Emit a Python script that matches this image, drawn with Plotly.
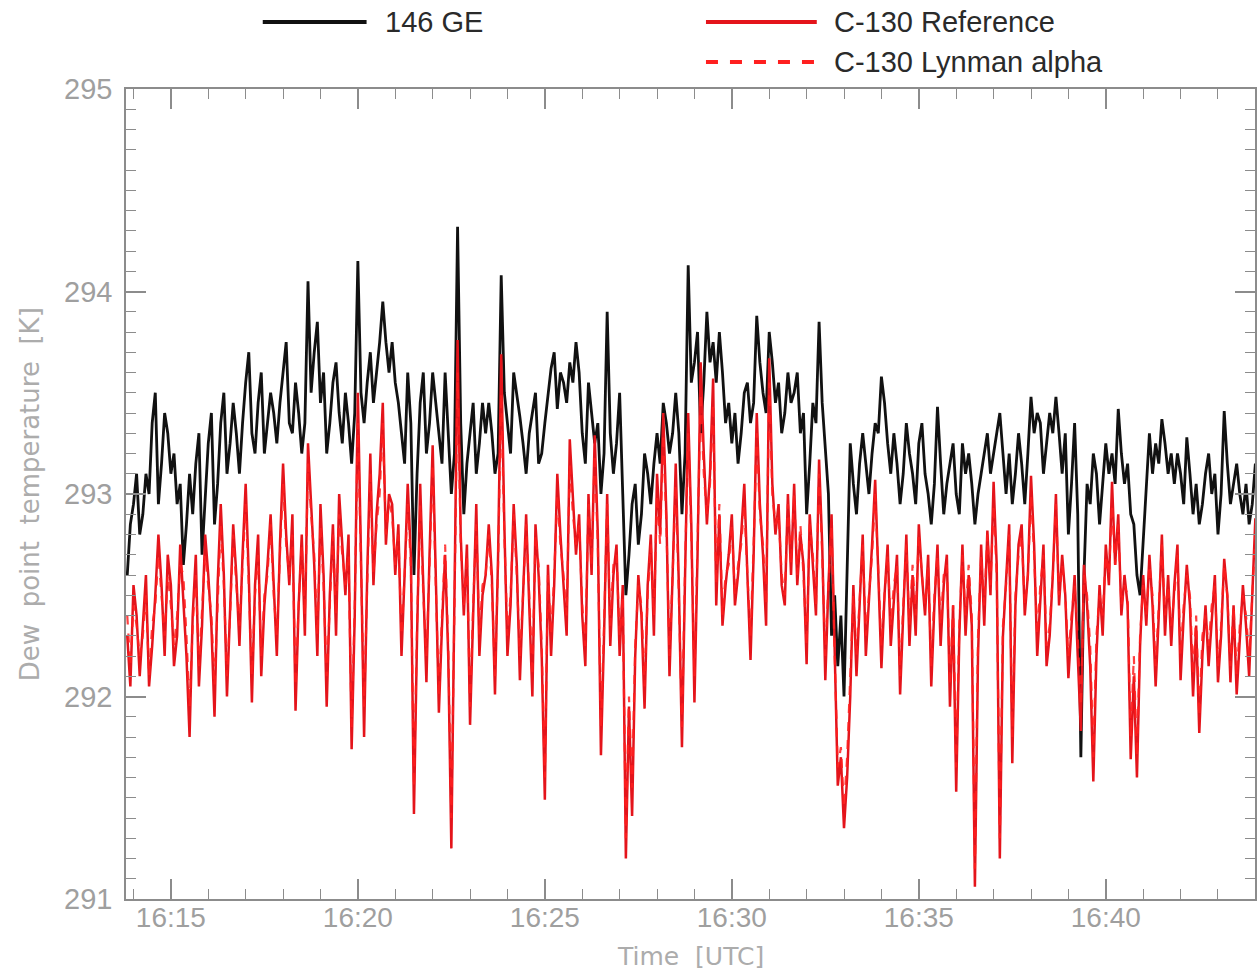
import plotly.graph_objects as go

# Sampling: 5 s steps starting 16:13:50 UTC (time in minutes after 16:00)
start_min = 13 + 50 / 60
step_min = 5 / 60

ge146 = [
    292.6, 292.85, 292.95, 293.1, 292.8, 292.9, 293.1, 293.0, 293.35, 293.5,
    292.95, 293.15, 293.4, 293.3, 293.1, 293.2, 292.95, 293.05, 292.65, 292.85,
    293.1, 292.9, 293.15, 293.3, 292.7, 292.95, 293.25, 293.4, 292.85, 293.05,
    293.35, 293.5, 293.1, 293.25, 293.45, 293.3, 293.1, 293.35, 293.55, 293.7,
    293.3, 293.2, 293.45, 293.6, 293.2, 293.35, 293.5, 293.4, 293.25, 293.45,
    293.6, 293.75, 293.35, 293.3, 293.55, 293.4, 293.2, 293.35, 294.05, 293.5,
    293.7, 293.85, 293.45, 293.6, 293.2, 293.35, 293.55, 293.65, 293.4, 293.25,
    293.5, 293.35, 293.15, 293.4, 294.15, 293.5, 293.35, 293.55, 293.7, 293.45,
    293.6, 293.75, 293.95, 293.75, 293.6, 293.75, 293.55, 293.45, 293.3, 293.15,
    293.6, 293.35, 292.6, 293.1, 293.45, 293.6, 293.2, 293.35, 293.6, 293.45,
    293.3, 293.15, 293.6, 293.3, 293.0, 293.2, 294.32, 293.35, 292.9, 293.15,
    293.3, 293.45, 293.1, 293.25, 293.45, 293.3, 293.45, 293.3, 293.1, 293.2,
    294.08, 293.5, 293.35, 293.2, 293.6, 293.5, 293.38, 293.25, 293.1, 293.3,
    293.4, 293.5, 293.15, 293.2, 293.35, 293.5, 293.62, 293.7, 293.42, 293.6,
    293.55, 293.45, 293.65, 293.55, 293.75, 293.6, 293.3, 293.15, 293.55, 293.4,
    293.25, 293.35, 293.0, 293.2, 293.9, 293.3, 293.1, 293.25, 293.5, 293.0,
    292.5, 292.7, 292.95, 293.05, 292.75, 292.9, 293.2, 293.1, 292.95, 293.15,
    293.3, 293.15, 293.45, 293.35, 293.2, 293.3, 293.5, 293.3, 292.9, 293.2,
    294.13, 293.55, 293.65, 293.8, 293.3, 293.55, 293.9, 293.65, 293.75, 293.55,
    293.8, 293.6, 293.35, 293.45, 293.25, 293.4, 293.15, 293.3, 293.5, 293.55,
    293.35, 293.45, 293.88, 293.65, 293.5, 293.4, 293.8, 293.65, 293.45, 293.55,
    293.3, 293.4, 293.6, 293.45, 293.5, 293.6, 293.3, 293.4, 292.9, 293.15,
    293.45, 293.35, 293.85, 293.45, 293.2, 293.0, 292.3, 292.5, 292.15, 292.4,
    292.0, 292.7, 293.25, 293.05, 292.9, 293.15, 293.3, 293.15, 293.0, 293.2,
    293.35, 293.3, 293.58, 293.45, 293.25, 293.1, 293.3, 293.15, 292.95, 293.1,
    293.35, 293.2, 293.1, 292.95, 293.25, 293.35, 293.1, 293.0, 292.85, 293.05,
    293.43, 293.15, 292.9, 293.05, 293.15, 293.25, 293.0, 292.9, 293.25, 293.1,
    293.2, 293.05, 292.85, 293.0, 293.1, 293.2, 293.3, 293.1, 293.2, 293.3,
    293.4, 293.2, 293.0, 293.2, 292.95, 293.1, 293.3, 293.15, 292.95, 293.2,
    293.48, 293.3, 293.4, 293.35, 293.1, 293.25, 293.4, 293.3, 293.48, 293.3,
    293.1, 293.3, 292.8, 293.05, 293.35, 292.9, 291.7, 292.6, 293.05, 292.95,
    293.2, 293.1, 292.85, 293.05, 293.25, 293.1, 293.2, 293.05, 293.42, 293.2,
    293.05, 293.15, 292.9, 292.85, 292.6, 292.5, 292.75, 293.0, 293.3, 293.1,
    293.25, 293.15, 293.37, 293.25, 293.1, 293.2, 293.05, 293.2, 293.1, 292.95,
    293.28, 293.1, 292.9, 293.05, 292.85, 292.95, 293.1, 293.2, 293.0, 293.1,
    292.8, 293.0, 293.41, 293.15, 292.95, 293.05, 293.15, 293.0, 292.9, 293.05,
    292.85, 292.95, 293.15,
]

c130_reference = [
    292.3, 292.05, 292.55, 292.4, 292.1, 292.35, 292.6, 292.05, 292.25, 292.5,
    292.8, 292.55, 292.2, 292.7, 292.55, 292.15, 292.3, 292.75, 292.5, 292.2,
    291.8, 292.4, 292.7, 292.05, 292.35, 292.8, 292.6, 292.35, 291.9, 292.55,
    292.95, 292.6, 292.0, 292.45, 292.85, 292.6, 292.25, 292.7, 293.05, 292.6,
    291.97, 292.55, 292.8, 292.1, 292.45, 292.65, 292.9, 292.55, 292.2, 292.75,
    293.15, 292.8, 292.55, 292.9, 291.93, 292.45, 292.8, 292.3, 293.25, 292.95,
    292.65, 292.2, 292.95, 292.6, 291.95, 292.5, 292.85, 292.3, 293.0, 292.75,
    292.5, 292.8, 291.74, 292.4, 293.5, 292.7, 291.8, 292.6, 293.2, 292.55,
    292.9, 293.1, 293.45, 292.75, 293.0, 292.95, 292.6, 292.85, 292.2, 292.6,
    293.05, 292.7, 291.42, 292.3, 293.05, 292.55, 292.07, 292.7, 293.24, 292.6,
    291.92, 292.35, 292.7, 292.2, 291.25, 292.5, 293.76, 292.8, 292.4, 292.75,
    291.86, 292.4, 292.95, 292.2, 292.5, 292.6, 292.85, 292.6, 292.01, 292.7,
    293.69, 292.85, 292.2, 292.45, 292.95, 292.65, 292.08, 292.5, 292.9, 292.45,
    292.0, 292.85, 292.6, 292.2, 291.49, 292.65, 292.2, 292.55, 293.1, 292.8,
    292.55, 292.3, 293.27, 292.95, 292.7, 292.9, 292.4, 292.15, 293.0, 292.6,
    293.29, 292.8, 291.71, 292.3, 293.0, 292.25, 292.6, 292.75, 292.2, 292.55,
    291.2, 291.95, 291.41, 292.2, 292.6, 292.4, 291.94, 292.55, 292.8, 292.3,
    293.1, 292.8, 293.4, 292.9, 292.1, 292.6, 293.15, 292.55, 291.75, 292.6,
    293.4, 292.85, 291.97, 292.7, 293.65, 293.2, 292.85, 293.1, 293.57, 292.45,
    292.9, 292.35, 292.55, 292.7, 292.9, 292.45, 292.6, 292.8, 293.05, 292.6,
    292.18, 292.7, 293.4, 292.95, 292.7, 292.35, 293.67, 293.05, 292.8, 292.95,
    292.55, 292.45, 293.0, 292.6, 293.05, 292.55, 292.8, 292.65, 292.16, 292.9,
    292.65, 292.4, 293.17, 292.75, 292.08, 292.55, 292.9, 292.15, 291.56, 291.7,
    291.35, 291.6, 292.0, 292.55, 292.1, 292.45, 292.8, 292.2, 292.45, 292.75,
    293.07, 292.6, 292.14, 292.5, 292.75, 292.25, 292.5, 292.7, 292.01, 292.4,
    292.8, 292.25, 292.6, 292.3, 292.85, 292.6, 292.4, 292.7, 292.05, 292.45,
    292.75, 292.25, 292.55, 292.7, 291.95, 292.45, 291.53, 292.3, 292.75, 292.3,
    292.6, 292.35, 291.06, 292.2, 292.75, 292.35, 292.82, 292.5, 293.06, 292.65,
    291.2, 292.3, 292.6, 292.85, 291.67, 292.45, 292.75, 292.85, 292.4, 292.6,
    293.09, 292.75, 292.2, 292.5, 292.75, 292.15, 292.3, 292.6, 293.0, 292.45,
    292.7, 292.5, 292.09, 292.35, 292.6, 292.2, 291.83, 292.65, 292.45, 292.15,
    291.58, 292.2, 292.55, 292.3, 292.75, 292.55, 293.06, 292.65, 292.9, 292.4,
    292.6, 292.45, 291.69, 292.1, 291.6, 292.25, 292.6, 292.35, 292.7, 292.45,
    292.05, 292.4, 292.8, 292.3, 292.6, 292.25, 292.55, 292.75, 292.08, 292.4,
    292.65, 292.45, 292.0, 292.35, 291.82, 292.2, 292.45, 292.15, 292.4, 292.6,
    292.07, 292.3, 292.68, 292.5, 292.07, 292.45, 292.01, 292.3, 292.55, 292.35,
    292.1, 292.5, 292.88,
]

c130_lyman_alpha = [
    292.4, 292.15, 292.45, 292.35, 292.2, 292.3, 292.5, 292.1, 292.35, 292.45,
    292.7, 292.5, 292.3, 292.6, 292.45, 292.25, 292.4, 292.65, 292.6, 292.3,
    291.95, 292.35, 292.6, 292.15, 292.45, 292.7, 292.55, 292.4, 292.05, 292.5,
    292.85, 292.55, 292.1, 292.4, 292.8, 292.55, 292.35, 292.65, 292.95, 292.55,
    292.1, 292.5, 292.7, 292.2, 292.5, 292.6, 292.85, 292.5, 292.3, 292.7,
    293.05, 292.75, 292.6, 292.8, 292.05, 292.45, 292.75, 292.4, 293.15, 292.9,
    292.7, 292.3, 292.85, 292.55, 292.1, 292.45, 292.8, 292.4, 292.9, 292.7,
    292.55, 292.7, 291.85, 292.45, 293.35, 292.65, 291.95, 292.55, 293.1, 292.6,
    292.85, 293.0, 293.35, 292.8, 292.95, 292.9, 292.65, 292.8, 292.3, 292.6,
    292.95, 292.65, 291.55, 292.35, 292.95, 292.5, 292.2, 292.65, 293.15, 292.55,
    292.0, 292.4, 292.75, 292.25, 291.4, 292.45, 293.6, 292.75, 292.45, 292.7,
    291.95, 292.45, 292.85, 292.3, 292.55, 292.6, 292.8, 292.55, 292.1, 292.65,
    293.5, 292.8, 292.3, 292.5, 292.9, 292.6, 292.2, 292.5, 292.85, 292.5,
    292.1, 292.8, 292.65, 292.25, 291.6, 292.6, 292.3, 292.6, 293.0, 292.75,
    292.6, 292.4, 293.15, 292.9, 292.75, 292.85, 292.45, 292.25, 292.95, 292.65,
    293.2, 292.75, 291.85, 292.35, 292.95, 292.35, 292.65, 292.7, 292.3, 292.5,
    291.3, 292.0, 291.55, 292.25, 292.55, 292.45, 292.05, 292.5, 292.75, 292.4,
    293.0, 292.75, 293.3, 292.85, 292.2, 292.6, 293.05, 292.5, 291.85, 292.65,
    293.3, 292.8, 292.1, 292.75, 293.5, 293.1, 292.9, 293.05, 293.45, 292.55,
    292.95, 292.4, 292.6, 292.65, 292.85, 292.5, 292.65, 292.75, 292.95, 292.6,
    292.3, 292.75, 293.3, 292.9, 292.75, 292.45, 293.55, 293.0, 292.85, 292.9,
    292.6, 292.5, 292.95, 292.65, 293.0, 292.6, 292.85, 292.6, 292.25, 292.85,
    292.7, 292.45, 293.1, 292.7, 292.2, 292.55, 292.85, 292.2, 291.65, 291.75,
    291.45, 291.7, 292.1, 292.5, 292.2, 292.45, 292.75, 292.3, 292.5, 292.7,
    293.0, 292.6, 292.25, 292.5, 292.7, 292.35, 292.55, 292.65, 292.1, 292.45,
    292.75, 292.35, 292.65, 292.4, 292.8, 292.6, 292.45, 292.65, 292.15, 292.5,
    292.7, 292.35, 292.6, 292.65, 292.05, 292.45, 291.65, 292.35, 292.7, 292.4,
    292.65, 292.4, 291.15, 292.3, 292.7, 292.45, 292.8, 292.55, 292.95, 292.6,
    291.3, 292.35, 292.55, 292.8, 291.8, 292.5, 292.7, 292.8, 292.45, 292.6,
    293.0, 292.7, 292.3, 292.55, 292.7, 292.25, 292.35, 292.6, 292.95, 292.5,
    292.65, 292.5, 292.2, 292.4, 292.55, 292.3, 291.95, 292.6, 292.5, 292.25,
    291.7, 292.3, 292.5, 292.4, 292.7, 292.6, 292.95, 292.65, 292.85, 292.45,
    292.55, 292.5, 291.8, 292.2, 291.7, 292.3, 292.55, 292.4, 292.65, 292.5,
    292.15, 292.45, 292.75, 292.4, 292.55, 292.35, 292.5, 292.7, 292.2, 292.45,
    292.6, 292.5, 292.1, 292.4, 291.9, 292.3, 292.4, 292.25, 292.45, 292.55,
    292.15, 292.35, 292.65, 292.5, 292.15, 292.45, 292.1, 292.35, 292.5, 292.4,
    292.2, 292.5, 292.8,
]

time_min = [start_min + step_min * i for i in range(len(ge146))]

x_tick_vals = [15, 20, 25, 30, 35, 40]
x_tick_text = ["16:15", "16:20", "16:25", "16:30", "16:35", "16:40"]
y_tick_vals = [291, 292, 293, 294, 295]

legend_names = ["146 GE", "C-130 Reference", "C-130 Lynman alpha"]

BLACK = "#111111"
RED = "#e4141b"
RED_DASH = "#ff1f1f"
AXIS_GREY = "#8c8c8c"
LABEL_GREY = "#9f9f9f"

fig = go.Figure()
fig.add_trace(go.Scatter(x=time_min, y=ge146, mode="lines",
                         line=dict(color=BLACK, width=2.8), name=legend_names[0]))
fig.add_trace(go.Scatter(x=time_min, y=c130_reference, mode="lines",
                         line=dict(color=RED, width=2.5), name=legend_names[1]))
fig.add_trace(go.Scatter(x=time_min, y=c130_lyman_alpha, mode="lines",
                         line=dict(color=RED_DASH, width=2.2, dash="dash"),
                         name=legend_names[2], opacity=0.85))

W, H = 1259, 974
ML, MR, MT, MB = 126, 2, 89, 75
PW, PH = W - ML - MR, H - MT - MB


def px(x):
    return (x - ML) / PW


def py(y):
    return (H - MB - y) / PH


shapes = [
    dict(type="line", xref="paper", yref="paper", x0=px(263), x1=px(367),
         y0=py(22), y1=py(22), line=dict(color=BLACK, width=4)),
    dict(type="line", xref="paper", yref="paper", x0=px(707), x1=px(818),
         y0=py(22), y1=py(22), line=dict(color=RED, width=4)),
    dict(type="line", xref="paper", yref="paper", x0=px(707), x1=px(818),
         y0=py(62), y1=py(62), line=dict(color=RED_DASH, width=4, dash="dash")),
]

legend_font = dict(family="Liberation Sans", size=29, color="#2a2a2a")
annotations = [
    dict(text=legend_names[0], xref="paper", yref="paper", x=px(383), y=py(22),
         xanchor="left", yanchor="middle", showarrow=False, font=legend_font),
    dict(text=legend_names[1], xref="paper", yref="paper", x=px(833), y=py(22),
         xanchor="left", yanchor="middle", showarrow=False, font=legend_font),
    dict(text=legend_names[2], xref="paper", yref="paper", x=px(833), y=py(62),
         xanchor="left", yanchor="middle", showarrow=False, font=legend_font),
    dict(text="Time  [UTC]", xref="paper", yref="paper", x=0.5, y=py(957),
         xanchor="center", yanchor="middle", showarrow=False,
         font=dict(family="DejaVu Sans", size=25, color="#acacac")),
    dict(text="Dew  point  temperature  [K]", xref="paper", yref="paper",
         x=px(30), y=0.5, xanchor="center", yanchor="middle", showarrow=False,
         textangle=-90,
         font=dict(family="DejaVu Sans", size=26, color="#acacac")),
]

fig.update_layout(
    width=W, height=H,
    margin=dict(l=ML, r=MR, t=MT, b=MB),
    paper_bgcolor="white", plot_bgcolor="white",
    showlegend=False,
    shapes=shapes,
    annotations=annotations,
    xaxis=dict(
        range=[13.8, 43.99], tickvals=x_tick_vals, ticktext=x_tick_text,
        ticks="inside", ticklen=20, tickwidth=1.5, tickcolor=AXIS_GREY,
        minor=dict(dtick=1, tick0=0, ticks="inside", ticklen=10,
                   tickwidth=1.2, tickcolor=AXIS_GREY),
        showline=True, linecolor=AXIS_GREY, linewidth=1.5, mirror="ticks",
        showgrid=False, zeroline=False, ticklabelstandoff=-7,
        tickfont=dict(family="Liberation Sans", size=28, color=LABEL_GREY),
    ),
    yaxis=dict(
        range=[291, 295], tickvals=y_tick_vals,
        ticks="inside", ticklen=20, tickwidth=1.5, tickcolor=AXIS_GREY,
        minor=dict(dtick=0.1, tick0=291, ticks="inside", ticklen=10,
                   tickwidth=1.2, tickcolor=AXIS_GREY),
        showline=True, linecolor=AXIS_GREY, linewidth=1.5, mirror="ticks",
        showgrid=False, zeroline=False, ticklabelstandoff=6,
        tickfont=dict(family="Liberation Sans", size=29, color=LABEL_GREY),
    ),
)

fig.write_html("out.html")
